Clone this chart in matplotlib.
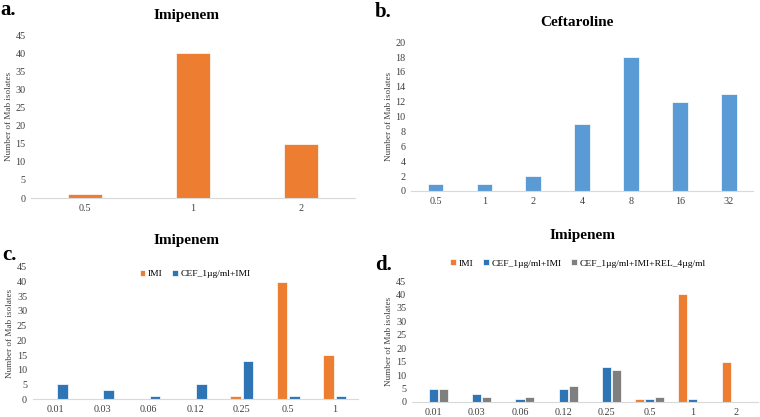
import matplotlib.pyplot as plt
import numpy as np

plt.rc('font', family='Liberation Serif')

# panel a
a_cats = ['0.5', '1', '2']
a_imi = [1, 40, 15]

# panel b
b_cats = ['0.5', '1', '2', '4', '8', '16', '32']
b_cef = [1, 1, 2, 9, 18, 12, 13]

# panel c
c_cats = ['0.01', '0.03', '0.06', '0.12', '0.25', '0.5', '1']
c_imi = [0, 0, 0, 0, 1, 40, 15]
c_cef = [5, 3, 1, 5, 13, 1, 1]

# panel d
d_cats = ['0.01', '0.03', '0.06', '0.12', '0.25', '0.5', '1', '2']
d_imi = [0, 0, 0, 0, 0, 1, 40, 15]
d_cef = [5, 3, 1, 5, 13, 1, 1, 0]
d_rel = [5, 2, 2, 6, 12, 2, 0, 0]

ORANGE = '#ED7D31'
BLUE_B = '#5B9BD5'
BLUE = '#2E75B6'
GRAY = '#7F7F7F'

fig = plt.figure(figsize=(7.6, 4.17), dpi=100)


def style(ax, n, ymax, step):
    ax.set_xlim(-0.5, n - 0.5)
    ax.set_ylim(0, ymax)
    ax.set_yticks(np.arange(0, ymax + 1, step))
    for s in ['top', 'right', 'left']:
        ax.spines[s].set_visible(False)
    ax.spines['bottom'].set_color('#D9D9D9')
    ax.spines['bottom'].set_linewidth(0.8)
    ax.tick_params(length=0, labelsize=7.3, colors='#404040', pad=4)
    ax.set_ylabel('Number of Mab isolates', fontsize=6.6, color='#404040', labelpad=2)


# a
ax = fig.add_axes([0.041, 0.525, 0.426, 0.391])
x = np.arange(len(a_cats))
ax.bar(x, a_imi, 0.31, color=ORANGE, edgecolor='white', linewidth=0.5)
style(ax, len(a_cats), 45, 5)
ax.set_xticks(x, a_cats)
fig.text(0.246, 0.963, 'Imipenem', ha='center', va='center', fontsize=11, fontweight='bold')
fig.text(0.0, 0.975, 'a.', ha='left', va='center', fontsize=15, fontweight='bold')

# b
ax = fig.add_axes([0.541, 0.542, 0.45, 0.357])
x = np.arange(len(b_cats))
ax.bar(x, b_cef, 0.32, color=BLUE_B, edgecolor='white', linewidth=0.5)
style(ax, len(b_cats), 20, 2)
ax.set_xticks(x, b_cats)
fig.text(0.759, 0.945, 'Ceftaroline', ha='center', va='center', fontsize=11, fontweight='bold')
fig.text(0.493, 0.972, 'b.', ha='left', va='center', fontsize=15, fontweight='bold')

# c
ax = fig.add_axes([0.043, 0.043, 0.428, 0.317])
x = np.arange(len(c_cats))
w = 0.23
ax.bar(x - w / 2 - 0.02, c_imi, w, color=ORANGE, edgecolor='white', linewidth=0.5, label='IMI')
ax.bar(x + w / 2 + 0.02, c_cef, w, color=BLUE, edgecolor='white', linewidth=0.5,
       label='CEF_1\u00b5g/ml+IMI')
style(ax, len(c_cats), 45, 5)
ax.set_xticks(x, c_cats)
ax.legend(loc='upper center', bbox_to_anchor=(0.5, 1.04), ncol=2, frameon=False, fontsize=6.8,
          handlelength=0.6, handleheight=0.6, handletextpad=0.3, columnspacing=1.0)
fig.text(0.246, 0.424, 'Imipenem', ha='center', va='center', fontsize=11, fontweight='bold')
fig.text(0.003, 0.388, 'c.', ha='left', va='center', fontsize=15, fontweight='bold')

# d
ax = fig.add_axes([0.542, 0.036, 0.455, 0.29])
x = np.arange(len(d_cats))
w = 0.21
ax.bar(x - w - 0.02, d_imi, w, color=ORANGE, edgecolor='white', linewidth=0.5, label='IMI')
ax.bar(x, d_cef, w, color=BLUE, edgecolor='white', linewidth=0.5, label='CEF_1\u00b5g/ml+IMI')
ax.bar(x + w + 0.02, d_rel, w, color=GRAY, edgecolor='white', linewidth=0.5,
       label='CEF_1\u00b5g/ml+IMI+REL_4\u00b5g/ml')
style(ax, len(d_cats), 45, 5)
ax.set_xticks(x, d_cats)
ax.legend(loc='lower center', bbox_to_anchor=(0.48, 1.04), ncol=3, frameon=False, fontsize=6.8,
          handlelength=0.6, handleheight=0.6, handletextpad=0.3, columnspacing=1.0)
fig.text(0.766, 0.436, 'Imipenem', ha='center', va='center', fontsize=11, fontweight='bold')
fig.text(0.494, 0.364, 'd.', ha='left', va='center', fontsize=15, fontweight='bold')

fig.savefig('out.png', dpi=100, facecolor='white')
